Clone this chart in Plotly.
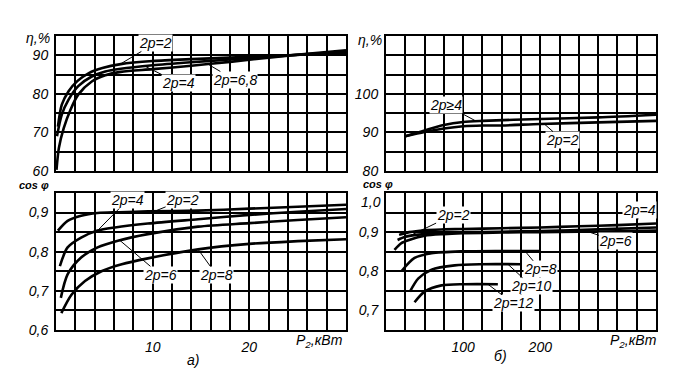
import numpy as np
import plotly.graph_objects as go

# ---------------- data ----------------
# a) left top: efficiency, %, vs P2, kW
lt_p2_x = [0.2, 0.6, 1.3, 2.2, 3.4, 4.8, 6.7, 10, 14, 18, 22, 26, 30]
lt_p2_y = [71.5, 77.2, 80.7, 83.3, 85.4, 86.7, 87.7, 88.5, 89.0, 89.4, 89.8, 90.2, 90.5]
lt_p4_x = [0.1, 0.6, 1.3, 2.3, 3.7, 5.1, 6.7, 10, 14, 18, 22, 26, 30]
lt_p4_y = [69.0, 74.6, 78.5, 82.0, 84.5, 85.8, 86.5, 87.4, 88.2, 88.9, 89.6, 90.3, 90.9]
lt_p68_x = [0.05, 0.3, 0.8, 1.5, 2.3, 3.7, 5.1, 6.7, 10, 14, 18, 22, 26, 30]
lt_p68_y = [60.3, 66.0, 71.1, 75.9, 79.8, 83.2, 84.8, 85.7, 86.4, 87.3, 88.3, 89.4, 90.4, 91.3]

# a) left bottom: cos phi vs P2, kW
lb_p2_x = [0.2, 1.2, 2.6, 4.3, 6.5, 9.5, 14.7, 20, 25, 30]
lb_p2_y = [0.854, 0.879, 0.892, 0.899, 0.901, 0.903, 0.905, 0.910, 0.915, 0.920]
lb_p4_x = [0.4, 1.2, 2.6, 4.3, 6.1, 9.5, 14.7, 20, 25, 30]
lb_p4_y = [0.763, 0.811, 0.836, 0.854, 0.862, 0.872, 0.883, 0.894, 0.902, 0.909]
lb_p6_x = [0.5, 1.2, 2.6, 4.3, 6.4, 9.5, 14.7, 20, 25, 30]
lb_p6_y = [0.682, 0.742, 0.785, 0.811, 0.828, 0.845, 0.864, 0.873, 0.881, 0.888]
lb_p8_x = [0.55, 1.6, 3.0, 4.7, 6.8, 9.5, 14.7, 20, 25, 30]
lb_p8_y = [0.643, 0.690, 0.725, 0.750, 0.768, 0.783, 0.806, 0.820, 0.827, 0.832]

# б) right top: efficiency, %, vs P2, kW
rt_p4_x = [25, 50, 75, 100, 125, 200, 275, 350]
rt_p4_y = [89.0, 90.5, 91.9, 92.7, 93.0, 93.5, 93.9, 94.6]
rt_p2_x = [25, 50, 75, 100, 125, 150, 200, 275, 350]
rt_p2_y = [89.0, 90.1, 91.0, 91.6, 91.8, 91.8, 92.2, 92.6, 93.0]

# б) right bottom: cos phi vs P2, kW
rb_p4_x = [17, 30, 50, 75, 100, 150, 200, 250, 300, 350]
rb_p4_y = [0.893, 0.900, 0.905, 0.907, 0.908, 0.910, 0.912, 0.915, 0.918, 0.922]
rb_p2_x = [15, 25, 39, 60, 75, 100, 150, 200, 275, 350]
rb_p2_y = [0.880, 0.888, 0.893, 0.897, 0.899, 0.900, 0.901, 0.903, 0.907, 0.912]
rb_p6_x = [11, 20, 30, 50, 75, 100, 150, 200, 250, 300, 350]
rb_p6_y = [0.855, 0.872, 0.880, 0.891, 0.895, 0.897, 0.899, 0.900, 0.901, 0.902, 0.904]
rb_p8_x = [20, 37, 59, 100, 150, 200]
rb_p8_y = [0.800, 0.834, 0.846, 0.851, 0.852, 0.852]
rb_p10_x = [31, 42, 59, 89, 123, 175]
rb_p10_y = [0.748, 0.782, 0.804, 0.815, 0.818, 0.818]
rb_p12_x = [37, 50, 72, 102, 145]
rb_p12_y = [0.721, 0.748, 0.764, 0.767, 0.767]

# tick labels
lt_yticks = [60, 65, 70, 75, 80, 85, 90, 95]
lt_ytext = ["60", "", "70", "", "80", "", "90", ""]
lb_yticks = [0.6, 0.65, 0.7, 0.75, 0.8, 0.85, 0.9, 0.95]
lb_ytext = ["0,6", "", "0,7", "", "0,8", "", "0,9", ""]
l_xticks = list(range(0, 31, 2))
l_xtext = ["10" if v == 10 else "20" if v == 20 else "" for v in l_xticks]
rt_yticks = [80, 85, 90, 95, 100, 105, 110, 115]
rt_ytext = ["80", "", "90", "", "100", "", "", ""]
rb_yticks = [0.65, 0.7, 0.75, 0.8, 0.85, 0.9, 0.95, 1.0]
rb_ytext = ["", "0,7", "", "0,8", "", "0,9", "", ""]
rb_top_label = "1,0"
r_xticks = list(range(0, 351, 25))
r_xtext = ["100" if v == 100 else "200" if v == 200 else "" for v in r_xticks]

# ---------------- figure ----------------
W, H = 697, 372
FONT = "Liberation Sans Narrow, Liberation Sans, DejaVu Sans, sans-serif"
fig = go.Figure()

curves = [
    (lt_p2_x, lt_p2_y, "x", "y"), (lt_p4_x, lt_p4_y, "x", "y"), (lt_p68_x, lt_p68_y, "x", "y"),
    (lb_p2_x, lb_p2_y, "x2", "y2"), (lb_p4_x, lb_p4_y, "x2", "y2"),
    (lb_p6_x, lb_p6_y, "x2", "y2"), (lb_p8_x, lb_p8_y, "x2", "y2"),
    (rt_p4_x, rt_p4_y, "x3", "y3"), (rt_p2_x, rt_p2_y, "x3", "y3"),
    (rb_p4_x, rb_p4_y, "x4", "y4"), (rb_p2_x, rb_p2_y, "x4", "y4"), (rb_p6_x, rb_p6_y, "x4", "y4"),
    (rb_p8_x, rb_p8_y, "x4", "y4"), (rb_p10_x, rb_p10_y, "x4", "y4"), (rb_p12_x, rb_p12_y, "x4", "y4"),
]
for xs, ys, xa, ya in curves:
    fig.add_trace(go.Scatter(x=xs, y=ys, xaxis=xa, yaxis=ya, mode="lines",
                             line=dict(color="black", width=2.6, shape="spline", smoothing=0.8),
                             showlegend=False, hoverinfo="skip"))

xl = [48 / W, 338 / W]
xr = [378 / W, 648 / W]
yt = [1 - 163 / H, 1 - 28 / H]
yb = [1 - 322 / H, 1 - 185 / H]

tickfont = dict(family=FONT, size=14, color="black", style="italic")


def ax(domain, rng, tv, tt, anchor):
    return dict(domain=domain, range=rng, tickvals=tv, ticktext=tt, anchor=anchor,
                showgrid=True, gridcolor="black", gridwidth=1.8, zeroline=False,
                showline=True, mirror=True, linecolor="black", linewidth=2,
                ticks="", ticklabelstandoff=3, tickfont=tickfont, automargin=False,
                fixedrange=True)


fig.update_layout(
    width=W, height=H, margin=dict(l=0, r=0, t=0, b=0),
    paper_bgcolor="white", plot_bgcolor="white",
    xaxis=ax(xl, [0, 30], l_xticks, ["" for _ in l_xticks], "y"),
    yaxis=ax(yt, [60, 95], lt_yticks, lt_ytext, "x"),
    xaxis2=ax(xl, [0, 30], l_xticks, l_xtext, "y2"),
    yaxis2=ax(yb, [0.6, 0.95], lb_yticks, lb_ytext, "x2"),
    xaxis3=ax(xr, [0, 350], r_xticks, ["" for _ in r_xticks], "y3"),
    yaxis3=ax(yt, [80, 115], rt_yticks, rt_ytext, "x3"),
    xaxis4=ax(xr, [0, 350], r_xticks, r_xtext, "y4"),
    yaxis4=ax(yb, [0.65, 1.0], rb_yticks, rb_ytext, "x4"),
)

labfont = dict(family=FONT, size=14, color="black", style="italic")

# curve labels: (text, xref, yref, tip x, curve xs, curve ys, text x, text y)
labels = [
    ("2p=2", "x", "y", 6.6, lt_p2_x, lt_p2_y, 10.3, 93.2),
    ("2p=4", "x", "y", 9.2, lt_p4_x, lt_p4_y, 12.7, 82.8),
    ("2p=6,8", "x", "y", 15.7, lt_p68_x, lt_p68_y, 18.5, 83.6),
    ("2p=4", "x2", "y2", 4.3, lb_p4_x, lb_p4_y, 7.4, 0.932),
    ("2p=2", "x2", "y2", 10.2, lb_p2_x, lb_p2_y, 13.1, 0.932),
    ("2p=6", "x2", "y2", 6.6, lb_p6_x, lb_p6_y, 10.8, 0.741),
    ("2p=8", "x2", "y2", 14.7, lb_p8_x, lb_p8_y, 16.6, 0.741),
    ("2p\u22654", "x3", "y3", 117, rt_p4_x, rt_p4_y, 78, 97.1),
    ("2p=2", "x3", "y3", 205, rt_p2_x, rt_p2_y, 229, 88.0),
    ("2p=2", "x4", "y4", 30, rb_p2_x, rb_p2_y, 87, 0.944),
    ("2p=4", "x4", "y4", 325, rb_p4_x, rb_p4_y, 329, 0.957),
    ("2p=6", "x4", "y4", 262, rb_p6_x, rb_p6_y, 298, 0.877),
    ("2p=8", "x4", "y4", 180, rb_p8_x, rb_p8_y, 200, 0.805),
    ("2p=10", "x4", "y4", 158, rb_p10_x, rb_p10_y, 189, 0.762),
    ("2p=12", "x4", "y4", 132, rb_p12_x, rb_p12_y, 165, 0.718),
]
for text, xr_, yr_, tx, cx, cy, lx, ly in labels:
    fig.add_annotation(text=text, xref=xr_, yref=yr_, axref=xr_, ayref=yr_,
                       x=tx, y=float(np.interp(tx, cx, cy)), ax=lx, ay=ly,
                       showarrow=True, arrowhead=0, arrowwidth=1, arrowcolor="black",
                       font=labfont, bgcolor="white", borderpad=0)

# axis titles & panel captions (paper coordinates)
def pa(text, px, py, size=14, bold=False, xanchor="center"):
    fig.add_annotation(text=text, xref="paper", yref="paper", x=px / W, y=1 - py / H,
                       xanchor=xanchor, yanchor="middle", showarrow=False,
                       font=dict(family=FONT, size=size, color="black", style="italic",
                                 weight="bold" if bold else "normal"))

pa("\u03b7,%", 30, 30)
pa("\u03b7,%", 362, 32)
pa("cos \u03c6", 26, 177, size=11, bold=True)
pa("cos \u03c6", 370, 176, size=11, bold=True)
pa(rb_top_label, 375, 194, xanchor="right")
pa("P<sub>2</sub>,\u043a\u0412\u0442", 311, 333)
pa("P<sub>2</sub>,\u043a\u0412\u0442", 625, 333)
pa("\u0430)", 185, 352)
pa("\u0431)", 492, 348)

fig.write_html("out.html")
